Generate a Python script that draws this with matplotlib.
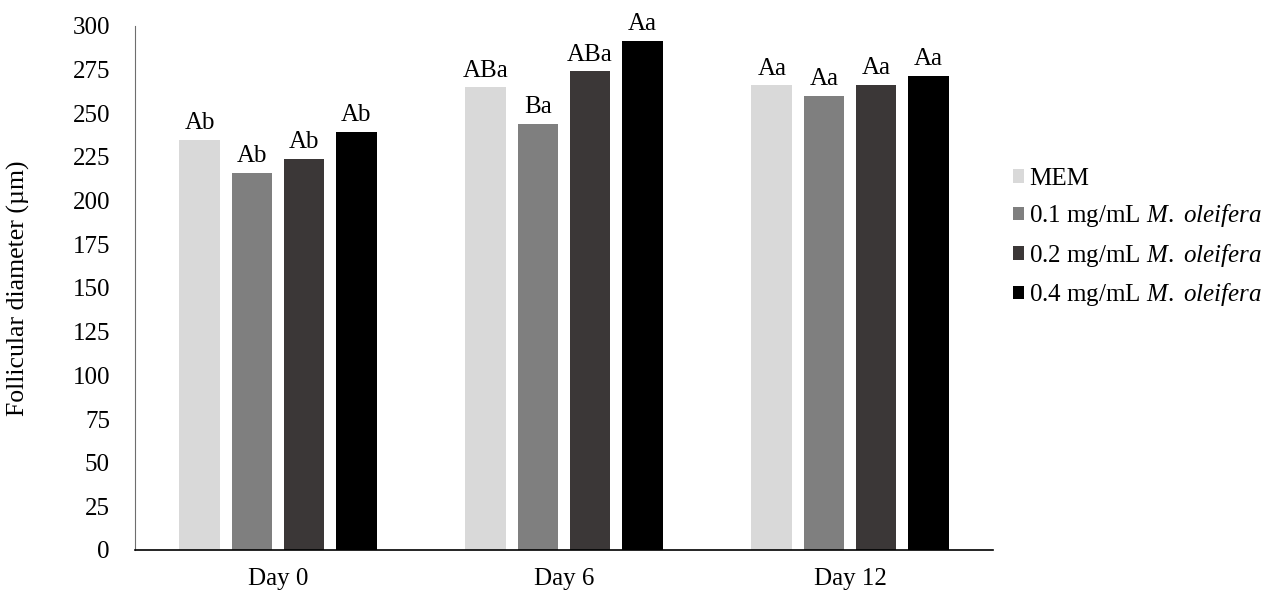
import numpy as np
import matplotlib.pyplot as plt

plt.rcParams['font.family'] = ['Liberation Serif', 'DejaVu Serif']
plt.rcParams['mathtext.fontset'] = 'custom'
plt.rcParams['mathtext.rm'] = 'Liberation Serif'
plt.rcParams['mathtext.it'] = 'Liberation Serif:italic'

days = ["Day 0", "Day 6", "Day 12"]
groups = ["MEM",
          r"0.1 mg/mL $\mathit{M.\ oleifera}$",
          r"0.2 mg/mL $\mathit{M.\ oleifera}$",
          r"0.4 mg/mL $\mathit{M.\ oleifera}$"]
mem = [235, 265, 266]
mo_01 = [216, 244, 260]
mo_02 = [224, 274, 266.5]
mo_04 = [239.5, 291.5, 271.5]
letters = [["Ab", "ABa", "Aa"],
           ["Ab", "Ba", "Aa"],
           ["Ab", "ABa", "Aa"],
           ["Ab", "Aa", "Aa"]]
colors = ["#d9d9d9", "#7f7f7f", "#3b3737", "#000000"]

fs = 18

fig = plt.figure(figsize=(12.73, 5.95), dpi=100)
ax = fig.add_axes([135 / 1273, 45 / 595, 858 / 1273, 524 / 595])

x = np.arange(len(days))
pitch = 0.182
width = 0.143
series = [mem, mo_01, mo_02, mo_04]
for i, vals in enumerate(series):
    pos = x + (i - 1.5) * pitch
    bars = ax.bar(pos, vals, width, color=colors[i], label=groups[i])
    for b, lab in zip(bars, letters[i]):
        ax.annotate(lab, (b.get_x() + b.get_width() / 2, b.get_height()),
                    xytext=(0, 4), textcoords="offset points",
                    ha="center", va="bottom", fontsize=fs)

ax.set_xlim(-0.5, 2.5)
ax.set_ylim(0, 300)
ax.set_yticks(np.arange(0, 301, 25))
ax.set_xticks(x)
ax.set_xticklabels(days)
ax.tick_params(axis="both", length=0, labelsize=fs)
ax.tick_params(axis="y", pad=18)
ax.tick_params(axis="x", pad=13)
for s in ["top", "right"]:
    ax.spines[s].set_visible(False)
ax.spines["left"].set_color("#6e6e6e")
ax.spines["bottom"].set_color("black")
ax.spines["bottom"].set_linewidth(1.2)

ax.set_ylabel("Follicular diameter (µm)", fontsize=fs + 0.5)
ax.yaxis.set_label_coords(-0.122, 0.5)

ax.legend(loc="center left", bbox_to_anchor=(1000 / 1273, 1 - 238 / 595),
          bbox_transform=fig.transFigure, frameon=False, fontsize=fs,
          handlelength=0.45, handleheight=0.45, handletextpad=0.2,
          labelspacing=0.5, borderpad=0)

fig.savefig("out.png", dpi=100)
